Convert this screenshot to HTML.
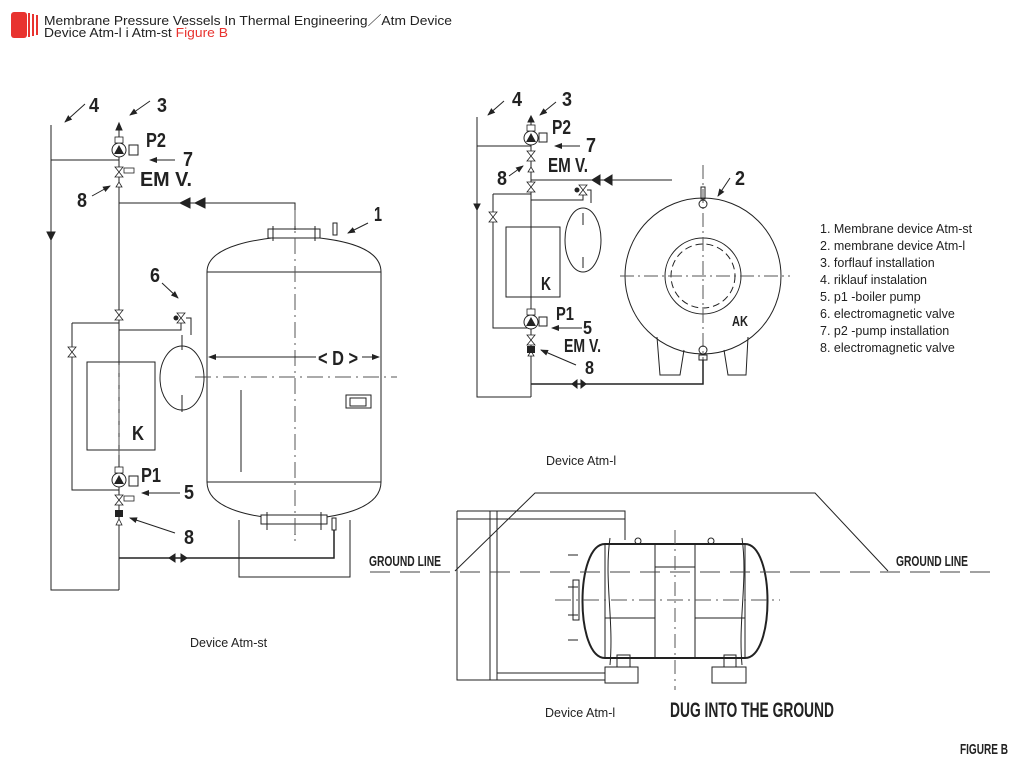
<!DOCTYPE html>
<html><head><meta charset="utf-8"><style>
body{margin:0;background:#fff;}
svg{display:block;}
.n{font-family:"Liberation Sans",sans-serif;font-weight:bold;}
.s{font-family:"Liberation Sans",sans-serif;}
</style></head><body>
<svg width="1024" height="768" viewBox="0 0 1024 768" xmlns="http://www.w3.org/2000/svg">
<defs>
<g id="v"><polygon points="-4,-5 4,-5 0,0" fill="#fff" stroke="#222" stroke-width="0.8"/><polygon points="-4,5 4,5 0,0" fill="#fff" stroke="#222" stroke-width="0.8"/></g>
<g id="p"><circle r="7" fill="#fff" stroke="#222" stroke-width="1"/><polygon points="-5,4 5,4 0,-5" fill="#222"/><rect x="-4" y="-13" width="8" height="6" fill="#fff" stroke="#222" stroke-width="0.8"/></g>
<marker id="ah" markerWidth="8" markerHeight="8" refX="7" refY="4" orient="auto" markerUnits="userSpaceOnUse"><path d="M0,1 L8,4 L0,7z" fill="#222"/></marker>
</defs>
<!-- header -->
<rect x="11" y="12" width="16" height="26" rx="3" fill="#e8332f"/>
<rect x="28" y="13" width="2" height="24" fill="#e8332f"/><rect x="32" y="14" width="2" height="22" fill="#e8332f"/><rect x="36" y="15" width="2" height="20" fill="#e8332f"/>
<text x="44" y="25" class="s" font-size="13" fill="#222" textLength="408" lengthAdjust="spacingAndGlyphs">Membrane Pressure Vessels In Thermal Engineering／Atm Device</text>
<text x="44" y="37" class="s" font-size="13" fill="#222" textLength="184" lengthAdjust="spacingAndGlyphs">Device Atm-l i Atm-st <tspan fill="#e8332f">Figure B</tspan></text>

<g stroke="#222" stroke-width="1" fill="none">
<!-- LEFT DIAGRAM -->
<path d="M51,125 V590 H119"/>
<path d="M47,232 L51,240 L55,232z" fill="#222"/>
<path d="M51,160 H119"/>
<path d="M119,125 V590"/>
<path d="M116,130 L119,123 L122,130z" fill="#222"/>
<path d="M119,203 H295 V228"/>
<path d="M190,198 L180,203 L190,208z M205,198 L195,203 L205,208z" fill="#222"/>
<path d="M207,272 C207,245 260,238 295,236 C335,238 381,245 381,272 V482 C381,510 335,518 295,520 C255,518 207,510 207,482 Z"/>
<path d="M207,272 H381 M207,482 H381"/>
<rect x="268" y="229" width="52" height="9" fill="#fff"/>
<path d="M273,226 V241 M315,226 V241 M295,220 V230"/>
<rect x="333" y="223" width="4" height="12"/>
<rect x="261" y="515" width="66" height="9" fill="#fff"/>
<path d="M267,512 V530 M321,512 V530 M295,524 V535"/>
<rect x="332" y="518" width="4" height="12"/>
<path d="M295,210 V545" stroke-dasharray="16,5,2,5" stroke="#555"/>
<path d="M195,377 H397" stroke-dasharray="16,5,2,5" stroke="#555"/>
<path d="M241,390 V472"/>
<rect x="346" y="395" width="25" height="13"/><rect x="350" y="398" width="16" height="8"/>
<path d="M239,520 V577 H350 V520"/>
<path d="M119,558 H334 V530" stroke-width="1.5"/>
<path d="M175,554 L169,558 L175,562z M181,554 L187,558 L181,562z" fill="#222"/>
<rect x="87" y="362" width="68" height="88"/>
<path d="M119,365 V455" stroke-dasharray="8,4" stroke="#555"/>
<path d="M72,323 H119 M72,323 V490 H119"/>
<path d="M119,330 H181 V320"/>
<ellipse cx="182" cy="378" rx="22" ry="32"/>
<path d="M182,335 V350 M182,395 V412"/>
<path d="M175,160 L150,160" marker-end="url(#ah)"/>
<path d="M180,493 L142,493" marker-end="url(#ah)"/>
<path d="M92,196 L110,186" marker-end="url(#ah)"/>
<path d="M175,533 L130,518" marker-end="url(#ah)"/>
<path d="M150,101 L130,115" marker-end="url(#ah)"/>
<path d="M85,104 L65,122" marker-end="url(#ah)"/>
<path d="M368,223 L348,233" marker-end="url(#ah)"/>
<path d="M162,283 L178,298" marker-end="url(#ah)"/>
<path d="M316,357 L209,357" marker-end="url(#ah)"/>
<path d="M362,357 L379,357" marker-end="url(#ah)"/>
<rect x="129" y="145" width="9" height="10" fill="#fff"/>
<rect x="129" y="476" width="9" height="10" fill="#fff"/>
<path d="M186,318 H191 V335"/>

<!-- RIGHT DIAGRAM -->
<path d="M477,117 V397 H531 M531,118 V397 M477,146 H531"/>
<path d="M474,204 L477,210 L480,204z" fill="#222"/>
<path d="M528,122 L531,116 L534,122z" fill="#222"/>
<path d="M531,180 H672"/>
<path d="M600,175 L592,180 L600,185z M612,175 L604,180 L612,185z" fill="#222"/>
<path d="M493,194 H531 M493,194 V328 H531"/>
<path d="M531,200 H583 V192"/>
<ellipse cx="583" cy="240" rx="18" ry="32"/>
<path d="M583,213 V225 M583,257 V268"/>
<rect x="506" y="227" width="54" height="70"/>
<path d="M531,384 H703 V360" stroke-width="1.5"/>
<path d="M577,380 L572,384 L577,388z M581,380 L586,384 L581,388z" fill="#222"/>
<circle cx="703" cy="276" r="78"/>
<circle cx="703" cy="276" r="38"/>
<circle cx="703" cy="276" r="32" stroke-dasharray="7,4"/>
<path d="M620,276 H790 M703,165 V360" stroke-dasharray="14,4,2,4" stroke="#555"/>
<path d="M657,337 L660,375 H680 L684,350 M748,337 L746,375 H728 L724,350"/>
<circle cx="703" cy="204" r="4"/><circle cx="703" cy="350" r="4"/>
<rect x="701" y="187" width="4" height="12"/>
<rect x="699" y="355" width="8" height="5"/>
<rect x="539" y="133" width="8" height="9" fill="#fff"/>
<rect x="539" y="317" width="8" height="9" fill="#fff"/>
<path d="M580,146 L555,146" marker-end="url(#ah)"/>
<path d="M582,328 L552,328" marker-end="url(#ah)"/>
<path d="M509,176 L523,166" marker-end="url(#ah)"/>
<path d="M576,365 L541,350" marker-end="url(#ah)"/>
<path d="M556,102 L540,115" marker-end="url(#ah)"/>
<path d="M504,101 L488,115" marker-end="url(#ah)"/>
<path d="M730,178 L718,196" marker-end="url(#ah)"/>
<path d="M587,190 H591 V203"/>

<!-- BOTTOM DIAGRAM -->
<path d="M455,571 L535,493 H815 L888,571"/>
<path d="M457,511 H625 V540 M457,519 H625 M457,511 V680 H605 M490,511 V680 M497,511 V680 M497,673 H605"/>
<path d="M605,544 H745 C775,544 775,658 745,658 H605 C575,658 575,544 605,544 Z" stroke-width="2"/>
<path d="M605,544 V658 M745,544 V658 M610,538 C604,580 614,620 610,665 M742,538 C748,580 738,620 742,665"/>
<path d="M655,544 V658 M695,544 V658 M655,567 H695 M605,618 H655 M695,618 H745"/>
<path d="M370,572 H1000" stroke-dasharray="20,10" stroke="#444"/>
<path d="M555,600 H780" stroke-dasharray="16,5,2,5" stroke="#555"/>
<path d="M675,530 V690" stroke-dasharray="14,5,2,5" stroke="#555"/>
<rect x="605" y="667" width="33" height="16"/><rect x="617" y="655" width="13" height="12"/>
<rect x="712" y="667" width="34" height="16"/><rect x="724" y="655" width="12" height="12"/>
<rect x="573" y="580" width="6" height="40"/>
<path d="M568,555 H578 M568,640 H578 M568,587 H578 M568,615 H578"/>
<circle cx="638" cy="541" r="3"/><circle cx="711" cy="541" r="3"/>
</g>
<use href="#v" x="119" y="172"/><use href="#v" x="119" y="315"/><use href="#v" x="72" y="352"/>
<use href="#v" x="119" y="500"/><use href="#v" x="181" y="318"/>
<use href="#v" x="531" y="156"/><use href="#v" x="531" y="187"/><use href="#v" x="493" y="217"/>
<use href="#v" x="531" y="340"/><use href="#v" x="583" y="190"/>
<path d="M116,187 L119,182 L122,187z M116,525 L119,519 L122,525z M528,172 L531,167 L534,172z M528,356 L531,351 L534,356z" fill="#fff" stroke="#222" stroke-width="0.8"/>
<rect x="115" y="510" width="8" height="7" fill="#222"/><rect x="527" y="346" width="8" height="7" fill="#222"/>
<rect x="124" y="168" width="10" height="5" fill="#fff" stroke="#222" stroke-width="0.8"/>
<rect x="124" y="496" width="10" height="5" fill="#fff" stroke="#222" stroke-width="0.8"/>
<circle cx="176" cy="318" r="2.5" fill="#222"/><circle cx="577" cy="190" r="2.5" fill="#222"/>
<use href="#p" x="119" y="150"/><use href="#p" x="119" y="480"/>
<use href="#p" x="531" y="138"/><use href="#p" x="531" y="322"/>

<g class="n" fill="#222" font-size="20">
<text x="89" y="112" textLength="10" lengthAdjust="spacingAndGlyphs">4</text>
<text x="157" y="112" textLength="10" lengthAdjust="spacingAndGlyphs">3</text>
<text x="146" y="147" textLength="20" lengthAdjust="spacingAndGlyphs">P2</text>
<text x="183" y="166" textLength="10" lengthAdjust="spacingAndGlyphs">7</text>
<text x="140" y="186" textLength="52" lengthAdjust="spacingAndGlyphs">EM  V.</text>
<text x="77" y="207" textLength="10" lengthAdjust="spacingAndGlyphs">8</text>
<text x="374" y="221" textLength="8" lengthAdjust="spacingAndGlyphs">1</text>
<text x="150" y="282" textLength="10" lengthAdjust="spacingAndGlyphs">6</text>
<text x="318" y="365" textLength="40" lengthAdjust="spacingAndGlyphs">&lt; D &gt;</text>
<text x="132" y="440" textLength="12" lengthAdjust="spacingAndGlyphs">K</text>
<text x="141" y="482" textLength="20" lengthAdjust="spacingAndGlyphs">P1</text>
<text x="184" y="499" textLength="10" lengthAdjust="spacingAndGlyphs">5</text>
<text x="184" y="544" textLength="10" lengthAdjust="spacingAndGlyphs">8</text>
<text x="512" y="106" textLength="10" lengthAdjust="spacingAndGlyphs">4</text>
<text x="562" y="106" textLength="10" lengthAdjust="spacingAndGlyphs">3</text>
<text x="552" y="134" textLength="19" lengthAdjust="spacingAndGlyphs">P2</text>
<text x="586" y="152" textLength="10" lengthAdjust="spacingAndGlyphs">7</text>
<text x="548" y="172" textLength="40" lengthAdjust="spacingAndGlyphs">EM  V.</text>
<text x="497" y="185" textLength="10" lengthAdjust="spacingAndGlyphs">8</text>
<text x="735" y="185" textLength="10" lengthAdjust="spacingAndGlyphs">2</text>
<text x="541" y="290" font-size="18" textLength="10" lengthAdjust="spacingAndGlyphs">K</text>
<text x="556" y="320" font-size="18" textLength="18" lengthAdjust="spacingAndGlyphs">P1</text>
<text x="583" y="334" font-size="18" textLength="9" lengthAdjust="spacingAndGlyphs">5</text>
<text x="564" y="352" font-size="18" textLength="37" lengthAdjust="spacingAndGlyphs">EM  V.</text>
<text x="585" y="374" font-size="18" textLength="9" lengthAdjust="spacingAndGlyphs">8</text>
<text x="732" y="326" font-size="15" textLength="16" lengthAdjust="spacingAndGlyphs">AK</text>
<text x="369" y="566" font-size="15" textLength="72" lengthAdjust="spacingAndGlyphs">GROUND LINE</text>
<text x="896" y="566" font-size="15" textLength="72" lengthAdjust="spacingAndGlyphs">GROUND LINE</text>
<text x="670" y="717" font-size="21" textLength="164" lengthAdjust="spacingAndGlyphs">DUG INTO THE GROUND</text>
<text x="960" y="754" font-size="15" textLength="48" lengthAdjust="spacingAndGlyphs">FIGURE B</text>
</g>
<g class="s" font-size="12.5" fill="#222">
<text x="820" y="233">1. Membrane device Atm-st</text>
<text x="820" y="250">2. membrane device Atm-l</text>
<text x="820" y="267">3. forflauf installation</text>
<text x="820" y="284">4. riklauf instalation</text>
<text x="820" y="301">5. p1 -boiler pump</text>
<text x="820" y="318">6. electromagnetic valve</text>
<text x="820" y="335">7. p2 -pump installation</text>
<text x="820" y="352">8. electromagnetic valve</text>
<text x="190" y="647">Device Atm-st</text>
<text x="546" y="465">Device Atm-l</text>
<text x="545" y="717">Device Atm-l</text>
</g>
</svg>
</body></html>
